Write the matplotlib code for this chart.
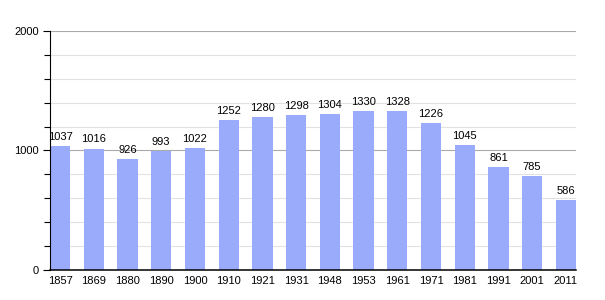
import matplotlib.pyplot as plt
from matplotlib.ticker import MultipleLocator

years = ['1857', '1869', '1880', '1890', '1900', '1910', '1921', '1931',
         '1948', '1953', '1961', '1971', '1981', '1991', '2001', '2011']
population = [1037, 1016, 926, 993, 1022, 1252, 1280, 1298,
              1304, 1330, 1328, 1226, 1045, 861, 785, 586]

plt.rcParams['font.family'] = ['Liberation Sans', 'DejaVu Sans']
fig = plt.figure(figsize=(6.05, 3.0), dpi=100)
ax = fig.add_axes([0.0826, 0.1, 0.8694, 0.7967])

w = 0.6
x = list(range(len(years)))
ax.bar(x, population, width=w, color='#9aabfb', zorder=2)
for xi, v in zip(x, population):
    ax.text(xi, v + 35, str(v), ha='center', va='bottom', fontsize=8, color='black', zorder=3)

ax.set_xlim(-w / 2, len(years) - 1 + w / 2)
ax.set_ylim(0, 2000)
ax.set_xticks(x)
ax.set_xticklabels(years, fontsize=8)
ax.tick_params(axis='x', length=0, pad=4)
ax.yaxis.set_major_locator(MultipleLocator(1000))
ax.yaxis.set_minor_locator(MultipleLocator(200))
ax.tick_params(axis='y', which='major', length=5, width=0.8, labelsize=8, pad=3)
ax.tick_params(axis='y', which='minor', length=4, width=0.8)
ax.grid(axis='y', which='major', color='#aaaaaa', linewidth=0.8, zorder=0)
ax.grid(axis='y', which='minor', color='#e2e2e2', linewidth=0.8, zorder=0)
for s in ['top', 'right']:
    ax.spines[s].set_visible(False)
ax.spines['left'].set_linewidth(0.8)
ax.spines['bottom'].set_linewidth(1.1)

fig.savefig('out.png', dpi=100)
